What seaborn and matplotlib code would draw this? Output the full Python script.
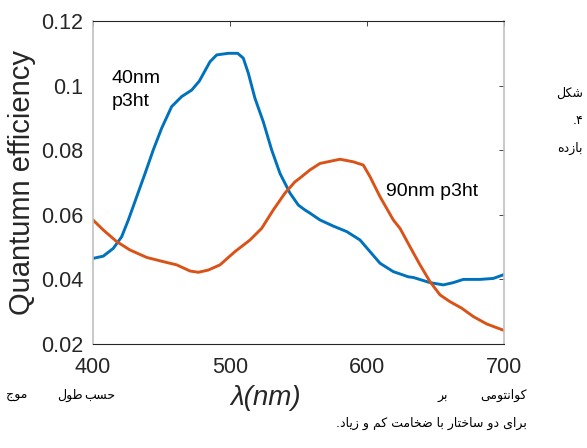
import matplotlib
matplotlib.use("Agg")
import matplotlib.pyplot as plt
import seaborn as sns
import pandas as pd

# ---------------- data ----------------
wl_40 = [400, 407.5, 414.8, 420.9, 425.8, 431.9, 438, 444, 450.1, 457.4, 464.7, 472,
         477.6, 485.4, 490.3, 498.8, 505.6, 509.7, 513.4, 518.2, 524.3, 530.4, 536.5,
         543.8, 549.9, 554.7, 558.4, 565.7, 575.4, 585.2, 594.9, 602.2, 609.5, 619.2,
         624.1, 630.1, 633.8, 646, 655.7, 663, 670.3, 682.5, 692.2, 700]
qe_40 = [0.0465, 0.0472, 0.0496, 0.0532, 0.0584, 0.0656, 0.0728, 0.0801, 0.0868, 0.0935,
         0.0966, 0.0986, 0.1014, 0.1074, 0.1095, 0.1100, 0.1100, 0.1085, 0.1038, 0.0961,
         0.0888, 0.0801, 0.0728, 0.0667, 0.0630, 0.0615, 0.0605, 0.0584, 0.0565, 0.0548,
         0.0522, 0.0486, 0.0450, 0.0424, 0.0417, 0.0408, 0.0406, 0.0390, 0.0383, 0.0390,
         0.0400, 0.0400, 0.0403, 0.0415]
wl_90 = [400, 407.5, 417.3, 427, 439.2, 451.3, 461.1, 470.8, 476.9, 484.2, 492.7, 503.6,
         514.6, 523.1, 531.6, 540.1, 547.4, 551.1, 558.4, 565.7, 580.3, 590, 597.3, 602.2,
         609.5, 619.2, 624.1, 631.4, 638.7, 646, 653.3, 660.6, 669.1, 677.6, 687.4, 700]
qe_90 = [0.0584, 0.0553, 0.0517, 0.0491, 0.0468, 0.0455, 0.0445, 0.0426, 0.0422, 0.0429,
         0.0445, 0.0486, 0.0522, 0.0558, 0.0615, 0.0667, 0.0702, 0.0714, 0.0739, 0.0759,
         0.0772, 0.0764, 0.0754, 0.0718, 0.0656, 0.0584, 0.0558, 0.0501, 0.0445, 0.0393,
         0.0352, 0.0331, 0.0311, 0.0285, 0.0262, 0.0242]
series_names = ["40nm p3ht", "90nm p3ht"]
x_ticks = [400, 500, 600, 700]
y_ticks = [0.02, 0.04, 0.06, 0.08, 0.1, 0.12]
y_tick_labels = ["0.02", "0.04", "0.06", "0.08", "0.1", "0.12"]

# Persian caption (logical order)
cap_right = ["شکل", "۴.", "بازده"]
cap_line1 = ["کوانتومی", "بر", "حسب", "طول", "موج"]
cap_line2 = "برای دو ساختار با ضخامت کم و زیاد."

# ------------- minimal Arabic-script shaping -------------
FORMS = {
    '\u0627': ('\uFE8D', '\uFE8E', None, None),
    '\u0628': ('\uFE8F', '\uFE90', '\uFE91', '\uFE92'),
    '\u062A': ('\uFE95', '\uFE96', '\uFE97', '\uFE98'),
    '\u062C': ('\uFE9D', '\uFE9E', '\uFE9F', '\uFEA0'),
    '\u062D': ('\uFEA1', '\uFEA2', '\uFEA3', '\uFEA4'),
    '\u062E': ('\uFEA5', '\uFEA6', '\uFEA7', '\uFEA8'),
    '\u062F': ('\uFEA9', '\uFEAA', None, None),
    '\u0631': ('\uFEAD', '\uFEAE', None, None),
    '\u0632': ('\uFEAF', '\uFEB0', None, None),
    '\u0633': ('\uFEB1', '\uFEB2', '\uFEB3', '\uFEB4'),
    '\u0634': ('\uFEB5', '\uFEB6', '\uFEB7', '\uFEB8'),
    '\u0636': ('\uFEBD', '\uFEBE', '\uFEBF', '\uFEC0'),
    '\u0637': ('\uFEC1', '\uFEC2', '\uFEC3', '\uFEC4'),
    '\u0644': ('\uFEDD', '\uFEDE', '\uFEDF', '\uFEE0'),
    '\u0645': ('\uFEE1', '\uFEE2', '\uFEE3', '\uFEE4'),
    '\u0646': ('\uFEE5', '\uFEE6', '\uFEE7', '\uFEE8'),
    '\u0647': ('\uFEE9', '\uFEEA', '\uFEEB', '\uFEEC'),
    '\u0648': ('\uFEED', '\uFEEE', None, None),
    '\u06CC': ('\uFBFC', '\uFBFD', '\uFBFE', '\uFBFF'),
    '\u06A9': ('\uFB8E', '\uFB8F', '\uFB90', '\uFB91'),
}


def shape(text):
    out = []
    for i, c in enumerate(text):
        if c not in FORMS:
            out.append(c)
            continue
        iso, fin, ini, med = FORMS[c]
        prev = text[i - 1] if i > 0 else None
        nxt = text[i + 1] if i + 1 < len(text) else None
        jp = prev in FORMS and FORMS[prev][2] is not None
        jn = (nxt in FORMS) and ini is not None
        if jp and jn:
            out.append(med)
        elif jp:
            out.append(fin)
        elif jn:
            out.append(ini)
        else:
            out.append(iso)
    return "".join(out)[::-1]


# ---------------- plot ----------------
sns.set_style("white")
plt.rcParams["font.family"] = ["Liberation Sans", "DejaVu Sans"]

W, H = 587, 448
fig = plt.figure(figsize=(W / 100, H / 100), dpi=100)
ax = fig.add_axes([93 / W, 1 - 344 / H, (504 - 93) / W, (344 - 21) / H])

df = pd.DataFrame({
    "wl": wl_40 + wl_90,
    "qe": qe_40 + qe_90,
    "series": [series_names[0]] * len(wl_40) + [series_names[1]] * len(wl_90),
})
sns.lineplot(data=df, x="wl", y="qe", hue="series", sort=False,
             palette=["#0072BD", "#D95319"], linewidth=2.1, legend=False, ax=ax)
for ln in ax.lines:
    ln.set_solid_joinstyle("round")
    ln.set_solid_capstyle("round")

ax.set_xlim(400, 700)
ax.set_ylim(0.02, 0.12)
ax.set_xticks(x_ticks)
ax.set_xticklabels([str(t) for t in x_ticks])
ax.set_yticks(y_ticks)
ax.set_yticklabels(y_tick_labels)

tick_col = "#262626"
ax.tick_params(axis="both", direction="in", length=3.6, width=0.6, color=tick_col,
               labelsize=15.5, labelcolor=tick_col, top=True, right=True)
ax.tick_params(axis="x", pad=9)
ax.tick_params(axis="y", pad=7)

for s in ["top", "bottom"]:
    ax.spines[s].set_color(tick_col)
    ax.spines[s].set_linewidth(0.8)
for s in ["left", "right"]:
    ax.spines[s].set_color("#c0c0c0")
    ax.spines[s].set_linewidth(1.2)

ax.set_ylabel("Quantumn efficiency", fontsize=21, color=tick_col, va="center")
ax.yaxis.set_label_coords((22 - 93) / 411, 0.5)
ax.set_xlabel("λ(nm)", fontsize=20, style="italic", color=tick_col, va="center")
ax.xaxis.set_label_coords((266 - 93) / 411, (344 - 398) / 323)

ax.text(413.6, 0.0987, "40nm\np3ht", fontsize=14, ha="left", va="center",
        linespacing=1.5, color="black")
ax.text(613.9, 0.0672, "90nm p3ht", fontsize=14, ha="left", va="center", color="black")

# Persian caption wrapped around the figure
pfont = dict(fontsize=9, color="black", family=["DejaVu Sans"])
right_y = [93, 120, 148]
for word, yy in zip(cap_right, right_y):
    fig.text(583 / W, 1 - yy / H, shape(word), ha="right", va="center", **pfont)
line1_x = [503.5, 443, 100, 70, 16.5]
for word, xx in zip(cap_line1, line1_x):
    fig.text(xx / W, 1 - 395 / H, shape(word), ha="center", va="center", **pfont)
fig.text(527 / W, 1 - 423 / H, shape(cap_line2), ha="right", va="center", **pfont)

fig.savefig("out.png", dpi=100)
